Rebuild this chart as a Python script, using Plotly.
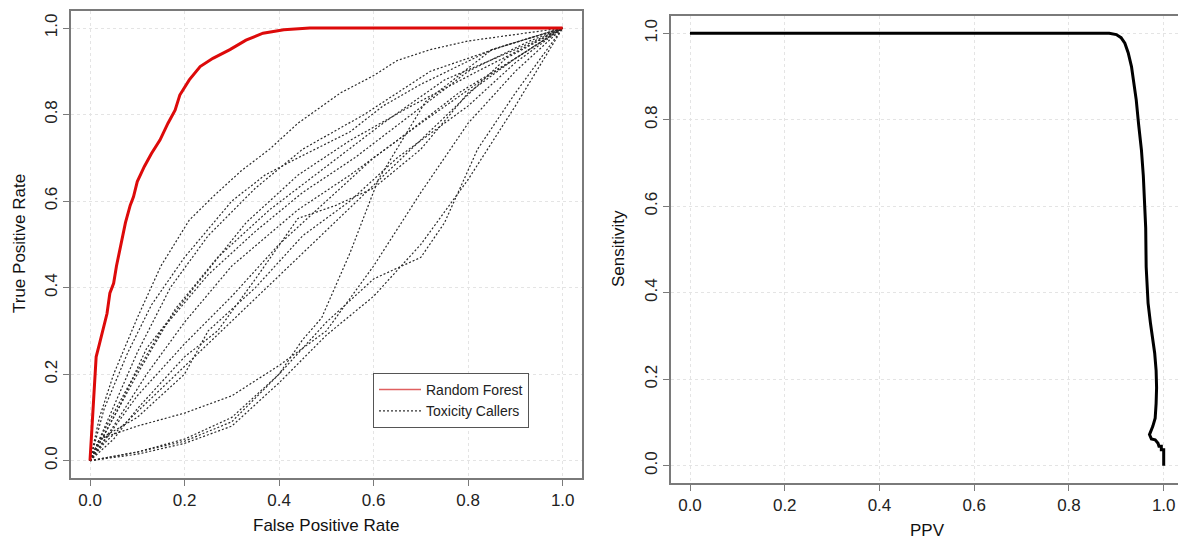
import plotly.graph_objects as go

# ---------------- data: left panel (ROC) ----------------
rf_fpr = [0, 0.002, 0.004, 0.007, 0.01, 0.013, 0.02, 0.03, 0.036, 0.042, 0.05, 0.056, 0.065,
          0.075, 0.085, 0.092, 0.1, 0.115, 0.13, 0.148, 0.165, 0.18, 0.19, 0.21, 0.233, 0.26,
          0.296, 0.33, 0.366, 0.41, 0.465, 0.6, 0.8, 1.0]
rf_tpr = [0, 0.04, 0.08, 0.13, 0.19, 0.24, 0.27, 0.31, 0.34, 0.387, 0.41, 0.45, 0.5,
          0.55, 0.59, 0.61, 0.645, 0.68, 0.71, 0.741, 0.78, 0.81, 0.845, 0.88, 0.911, 0.93,
          0.95, 0.972, 0.988, 0.996, 1.0, 1.0, 1.0, 1.0]

tc01_fpr = [0, 0.02, 0.05, 0.1, 0.15, 0.21, 0.26, 0.32, 0.38, 0.44, 0.53, 0.6, 0.65, 0.72, 0.8, 0.9, 1]
tc01_tpr = [0, 0.1, 0.2, 0.33, 0.45, 0.556, 0.61, 0.67, 0.72, 0.78, 0.85, 0.89, 0.925, 0.95, 0.97, 0.985, 1]
tc02_fpr = [0, 0.03, 0.08, 0.13, 0.2, 0.3, 0.37, 0.44, 0.55, 0.62, 0.7, 0.85, 1]
tc02_tpr = [0, 0.12, 0.25, 0.36, 0.47, 0.6, 0.66, 0.7, 0.76, 0.82, 0.87, 0.95, 1]
tc03_fpr = [0, 0.04, 0.1, 0.17, 0.25, 0.35, 0.45, 0.58, 0.72, 0.88, 1]
tc03_tpr = [0, 0.1, 0.25, 0.4, 0.52, 0.63, 0.72, 0.8, 0.9, 0.96, 1]
tc04_fpr = [0, 0.05, 0.1, 0.18, 0.27, 0.38, 0.5, 0.62, 0.75, 0.9, 1]
tc04_tpr = [0, 0.1, 0.2, 0.35, 0.47, 0.58, 0.68, 0.78, 0.88, 0.95, 1]
tc05_fpr = [0, 0.03, 0.08, 0.15, 0.25, 0.35, 0.45, 0.56, 0.68, 0.8, 0.93, 1]
tc05_tpr = [0, 0.07, 0.17, 0.3, 0.43, 0.53, 0.62, 0.7, 0.8, 0.9, 0.97, 1]
tc06_fpr = [0, 0.05, 0.12, 0.2, 0.3, 0.44, 0.55, 0.65, 0.78, 0.9, 1]
tc06_tpr = [0, 0.08, 0.2, 0.32, 0.45, 0.58, 0.66, 0.74, 0.85, 0.93, 1]
tc07_fpr = [0, 0.06, 0.12, 0.22, 0.33, 0.44, 0.55, 0.68, 0.82, 1]
tc07_tpr = [0, 0.12, 0.26, 0.4, 0.55, 0.66, 0.74, 0.82, 0.9, 1]
tc08_fpr = [0, 0.04, 0.1, 0.2, 0.3, 0.4, 0.5, 0.6, 0.7, 0.83, 1]
tc08_tpr = [0, 0.06, 0.15, 0.27, 0.38, 0.5, 0.6, 0.7, 0.78, 0.88, 1]
tc09_fpr = [0, 0.02, 0.1, 0.2, 0.25, 0.35, 0.45, 0.55, 0.65, 0.8, 0.9, 1]
tc09_tpr = [0, 0.05, 0.1, 0.2, 0.3, 0.4, 0.52, 0.6, 0.7, 0.82, 0.92, 1]
tc10_fpr = [0, 0.05, 0.1, 0.2, 0.27, 0.35, 0.44, 0.52, 0.6, 0.7, 0.8, 0.9, 1]
tc10_tpr = [0, 0.05, 0.12, 0.24, 0.3, 0.42, 0.56, 0.59, 0.63, 0.72, 0.85, 0.93, 1]
tc11_fpr = [0, 0.03, 0.88, 1]
tc11_tpr = [0, 0.04, 0.93, 1]
tc12_fpr = [0, 0.02, 0.1, 0.2, 0.3, 0.4, 0.5, 0.6, 0.7, 0.8, 0.9, 1]
tc12_tpr = [0, 0.05, 0.08, 0.11, 0.15, 0.22, 0.3, 0.45, 0.62, 0.78, 0.9, 1]
tc13_fpr = [0, 0.1, 0.2, 0.3, 0.4, 0.5, 0.6, 0.7, 0.8, 0.9, 1]
tc13_tpr = [0, 0.015, 0.04, 0.08, 0.18, 0.29, 0.38, 0.5, 0.65, 0.82, 1]
tc14_fpr = [0, 0.1, 0.2, 0.3, 0.4, 0.5, 0.6, 0.7, 0.75, 0.82, 0.9, 1]
tc14_tpr = [0, 0.02, 0.045, 0.09, 0.2, 0.32, 0.42, 0.47, 0.55, 0.72, 0.85, 1]
tc15_fpr = [0, 0.1, 0.2, 0.3, 0.4, 0.45, 0.49, 0.55, 0.61, 0.71, 0.85, 1]
tc15_tpr = [0, 0.02, 0.05, 0.1, 0.2, 0.28, 0.33, 0.48, 0.65, 0.83, 0.95, 1]

caller_fpr = [tc01_fpr, tc02_fpr, tc03_fpr, tc04_fpr, tc05_fpr, tc06_fpr, tc07_fpr, tc08_fpr,
              tc09_fpr, tc10_fpr, tc11_fpr, tc12_fpr, tc13_fpr, tc14_fpr, tc15_fpr]
caller_tpr = [tc01_tpr, tc02_tpr, tc03_tpr, tc04_tpr, tc05_tpr, tc06_tpr, tc07_tpr, tc08_tpr,
              tc09_tpr, tc10_tpr, tc11_tpr, tc12_tpr, tc13_tpr, tc14_tpr, tc15_tpr]

# ---------------- data: right panel ----------------
ppv = [0.0, 0.2, 0.4, 0.6, 0.8, 0.885, 0.9, 0.91, 0.918, 0.925, 0.932, 0.937, 0.942, 0.947,
       0.953, 0.957, 0.96, 0.962, 0.963, 0.965, 0.967, 0.972, 0.978, 0.981, 0.984, 0.985,
       0.984, 0.982, 0.977, 0.972, 0.97, 0.974, 0.982, 0.988, 0.99, 0.995, 0.995, 1.0, 1.0]
sens = [1, 1, 1, 1, 1, 1.0, 0.997, 0.99, 0.977, 0.955, 0.923, 0.885, 0.846, 0.79,
        0.73, 0.67, 0.615, 0.55, 0.46, 0.42, 0.376, 0.33, 0.29, 0.26, 0.22, 0.18,
        0.144, 0.11, 0.091, 0.078, 0.072, 0.062, 0.06, 0.052, 0.045, 0.045, 0.037, 0.037, 0.0]

tick_vals = [0.0, 0.2, 0.4, 0.6, 0.8, 1.0]
tick_text = ["0.0", "0.2", "0.4", "0.6", "0.8", "1.0"]

FONT = "Liberation Sans, Arial, Helvetica, sans-serif"
W, H = 1178, 539

fig = go.Figure()

for fx, fy in zip(caller_fpr, caller_tpr):
    fig.add_trace(go.Scatter(x=fx, y=fy, mode="lines", xaxis="x", yaxis="y",
                             line=dict(color="#2a2a2a", width=1.2, dash="2px,2px"),
                             showlegend=False, hoverinfo="skip"))

fig.add_trace(go.Scatter(x=rf_fpr, y=rf_tpr, mode="lines", xaxis="x", yaxis="y",
                         line=dict(color="#dd0a0a", width=3), showlegend=False,
                         hoverinfo="skip"))

# legend entries
fig.add_trace(go.Scatter(x=[None], y=[None], mode="lines", name="Random Forest",
                         line=dict(color="#e06060", width=1.5), xaxis="x", yaxis="y"))
fig.add_trace(go.Scatter(x=[None], y=[None], mode="lines", name="Toxicity Callers",
                         line=dict(color="#333333", width=1.2, dash="2px,2px"),
                         xaxis="x", yaxis="y"))

fig.add_trace(go.Scatter(x=ppv, y=sens, mode="lines", xaxis="x2", yaxis="y2",
                         line=dict(color="#000000", width=3), showlegend=False,
                         hoverinfo="skip"))

axis_common = dict(
    tickmode="array", tickvals=tick_vals, ticktext=tick_text,
    showline=True, linecolor="#7a7a7a", linewidth=1.5,
    ticks="outside", ticklen=6, tickcolor="#7a7a7a", tickwidth=1.2,
    showgrid=True, gridcolor="#e4e4e4", griddash="dot", gridwidth=1,
    zeroline=False, automargin=False,
    tickfont=dict(family=FONT, size=17, color="#222222"),
)

fig.update_layout(
    width=W, height=H,
    margin=dict(l=0, r=0, t=0, b=0),
    paper_bgcolor="white", plot_bgcolor="white",
    font=dict(family=FONT, color="#111111"),
    xaxis=dict(axis_common, domain=[71.1 / W, 581.6 / W], range=[-0.04, 1.04],
               anchor="y", mirror=True),
    yaxis=dict(axis_common, domain=[1 - 478 / H, 1 - 10.7 / H], range=[-0.04, 1.04],
               anchor="x", mirror=True, tickangle=-90),
    xaxis2=dict(axis_common, domain=[671.05 / W, 1.0], range=[-0.04, (W - 690) / 473.7],
                anchor="y2", mirror=True),
    yaxis2=dict(axis_common, domain=[1 - 483 / H, 1 - 16 / H], range=[-0.04, 1.04],
                anchor="x2", mirror=False, tickangle=-90),
    legend=dict(x=373 / W, y=1 - 373 / H, xanchor="left", yanchor="top",
                bordercolor="#555555", borderwidth=1, bgcolor="white",
                font=dict(family=FONT, size=14, color="#222222"),
                tracegroupgap=0, itemwidth=42),
    showlegend=True,
    hovermode=False,
    annotations=[
        dict(text="False Positive Rate", x=326 / W, y=1 - 525 / H, xref="paper", yref="paper",
             showarrow=False, font=dict(family=FONT, size=17, color="#111111"),
             xanchor="center", yanchor="middle"),
        dict(text="True Positive Rate", x=19 / W, y=1 - 244 / H, xref="paper", yref="paper",
             showarrow=False, textangle=-90, font=dict(family=FONT, size=17, color="#111111"),
             xanchor="center", yanchor="middle"),
        dict(text="PPV", x=927 / W, y=1 - 530 / H, xref="paper", yref="paper",
             showarrow=False, font=dict(family=FONT, size=17, color="#111111"),
             xanchor="center", yanchor="middle"),
        dict(text="Sensitivity", x=619 / W, y=1 - 249 / H, xref="paper", yref="paper",
             showarrow=False, textangle=-90, font=dict(family=FONT, size=17, color="#111111"),
             xanchor="center", yanchor="middle"),
    ],
)

fig.write_html("out.html")
